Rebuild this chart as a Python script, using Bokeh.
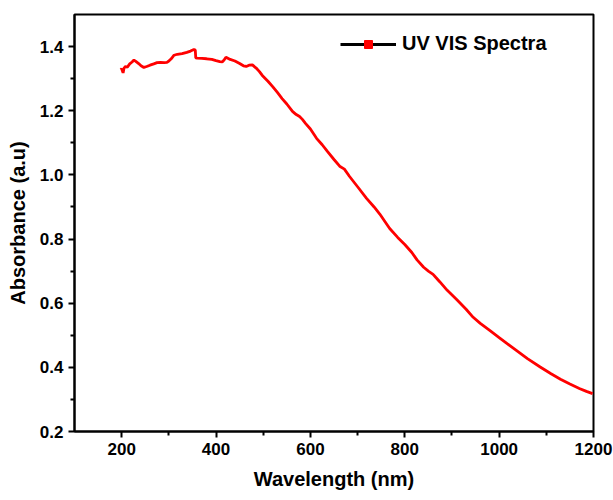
from bokeh.plotting import figure
from bokeh.models import FixedTicker, Legend, LegendItem, ColumnDataSource, PrintfTickFormatter
from bokeh.embed import file_html
from bokeh.resources import INLINE

wavelength = [198, 200, 203, 205, 208, 212, 217, 222, 226, 230, 236, 241, 247, 253, 260,
              268, 275, 282, 290, 296, 300, 305, 311, 318, 328, 338, 346, 353, 356, 357,
              360, 370, 380, 391, 400, 408, 413, 417, 421, 430, 440, 450, 458, 464, 470,
              477, 485, 492, 498, 510, 520, 530, 540, 550, 562, 570, 577, 583, 590, 600,
              613, 625, 636, 650, 662, 672, 683, 700, 719, 735, 747, 768, 785, 800, 815,
              826, 840, 850, 860, 866, 874, 890, 911, 930, 945, 960, 980, 1000, 1017, 1040,
              1060, 1087, 1110, 1130, 1150, 1170, 1185, 1198]
absorbance = [1.328, 1.331, 1.318, 1.333, 1.338, 1.336, 1.346, 1.352, 1.358, 1.354, 1.347,
              1.340, 1.335, 1.338, 1.342, 1.346, 1.350, 1.351, 1.350, 1.351, 1.355, 1.362,
              1.373, 1.376, 1.378, 1.382, 1.386, 1.391, 1.389, 1.365, 1.364, 1.363, 1.362,
              1.360, 1.356, 1.353, 1.352, 1.358, 1.367, 1.360, 1.355, 1.347, 1.340, 1.338,
              1.342, 1.343, 1.333, 1.322, 1.310, 1.292, 1.275, 1.257, 1.238, 1.221, 1.198,
              1.188, 1.182, 1.173, 1.160, 1.143, 1.114, 1.094, 1.073, 1.048, 1.027, 1.018,
              0.995, 0.963, 0.927, 0.900, 0.878, 0.833, 0.805, 0.783, 0.758, 0.735, 0.712,
              0.700, 0.690, 0.680, 0.667, 0.640, 0.610, 0.581, 0.556, 0.537, 0.515, 0.493,
              0.474, 0.449, 0.427, 0.401, 0.380, 0.363, 0.348, 0.334, 0.325, 0.318]

x_major = [200, 400, 600, 800, 1000, 1200]
x_minor = [300, 500, 700, 900, 1100]
y_major = [0.2, 0.4, 0.6, 0.8, 1.0, 1.2, 1.4]
y_minor = [0.3, 0.5, 0.7, 0.9, 1.1, 1.3]
legend_label = "UV VIS Spectra"

FONT = "Liberation Sans"

p = figure(width=613, height=500, frame_width=519, frame_height=417,
           x_range=(100, 1200), y_range=(0.2, 1.5),
           output_backend="svg", toolbar_location=None,
           min_border_left=74, min_border_right=20, min_border_top=14, min_border_bottom=69)

p.xgrid.visible = False
p.ygrid.visible = False
p.outline_line_color = "black"
p.outline_line_width = 2
p.background_fill_color = "white"
p.border_fill_color = "white"

src = ColumnDataSource(dict(x=wavelength, y=absorbance))
p.line("x", "y", source=src, line_color="#ff0000", line_width=2.8)

# legend-only renderers (placed outside the visible range)
hidden = ColumnDataSource(dict(x=[-5000, -4000], y=[-5, -5]))
leg_line = p.line("x", "y", source=hidden, line_color="black", line_width=3.2)
leg_mark = p.scatter("x", "y", source=hidden, marker="square", size=4,
                     fill_color="#ff0000", line_color="#ff0000")
legend = Legend(items=[LegendItem(label=legend_label, renderers=[leg_line, leg_mark])],
                location=(266, 376), border_line_color=None, background_fill_alpha=0,
                label_text_font=FONT, label_text_font_style="bold", label_text_font_size="20px",
                label_text_color="black",
                glyph_width=56, glyph_height=20, label_standoff=6, margin=0,
                padding=0, label_height=20)
p.add_layout(legend)

for ax in (p.xaxis[0], p.yaxis[0]):
    ax.axis_line_width = 2
    ax.axis_line_color = "black"
    ax.major_tick_line_width = 2
    ax.minor_tick_line_width = 2
    ax.major_tick_out = 6
    ax.major_tick_in = 0
    ax.minor_tick_out = 4
    ax.minor_tick_in = 0
    ax.major_label_text_font = FONT
    ax.major_label_text_font_style = "bold"
    ax.major_label_text_font_size = "17px"
    ax.major_label_text_color = "black"
    ax.axis_label_text_font = FONT
    ax.axis_label_text_font_style = "bold"
    ax.axis_label_text_font_size = "20px"
    ax.axis_label_text_color = "black"
    ax.major_label_standoff = 5

p.xaxis[0].ticker = FixedTicker(ticks=x_major, minor_ticks=x_minor)
p.yaxis[0].ticker = FixedTicker(ticks=y_major, minor_ticks=y_minor)
p.yaxis[0].formatter = PrintfTickFormatter(format="%.1f")
p.xaxis[0].axis_label = "Wavelength (nm)"
p.yaxis[0].axis_label = "Absorbance (a.u)"
p.xaxis[0].axis_label_standoff = 10
p.yaxis[0].axis_label_standoff = 8

open("out.html", "w").write(file_html(p, INLINE))
